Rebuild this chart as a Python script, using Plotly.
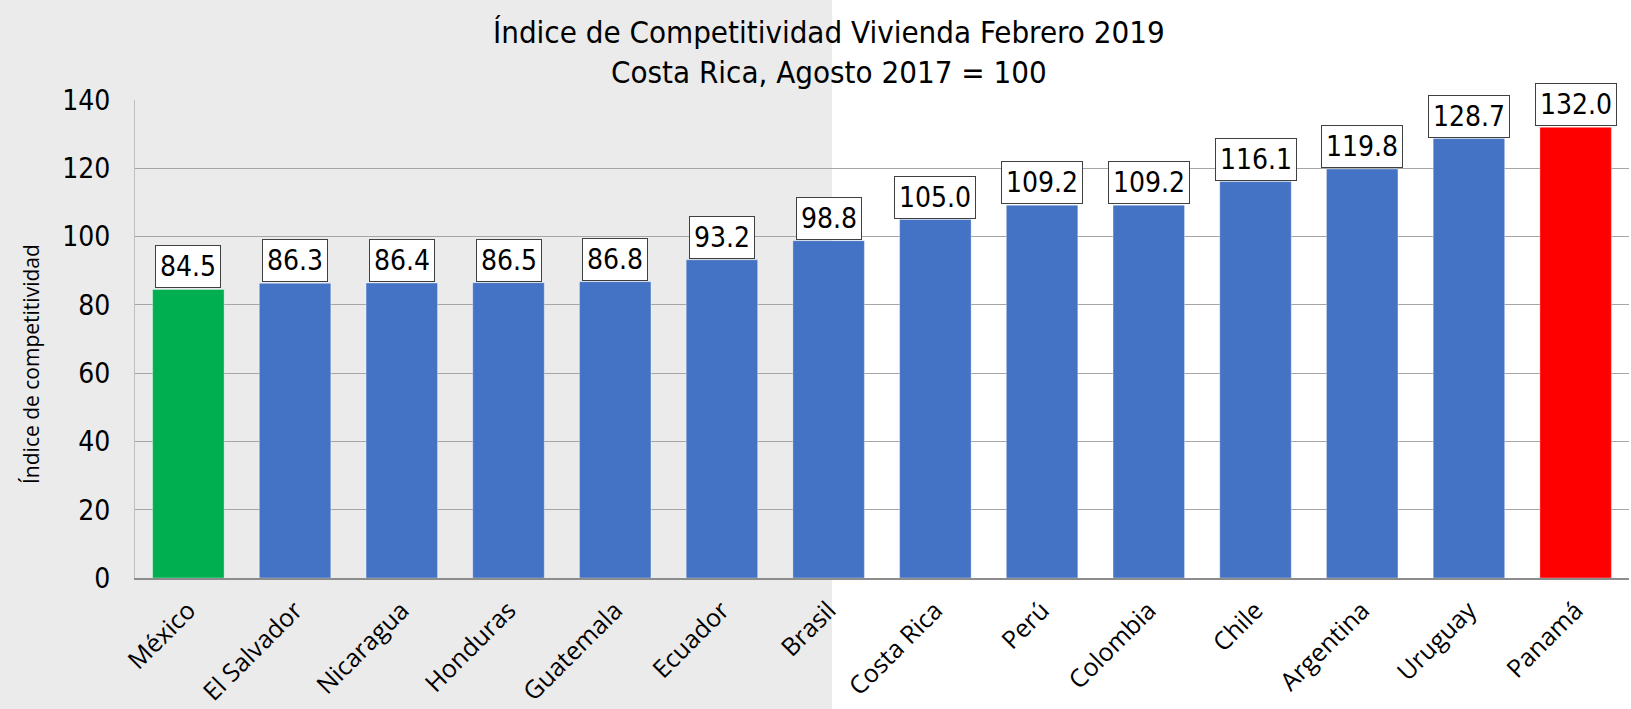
import plotly.graph_objects as go

categories = ["México", "El Salvador", "Nicaragua", "Honduras", "Guatemala", "Ecuador", "Brasil",
              "Costa Rica", "Perú", "Colombia", "Chile", "Argentina", "Uruguay", "Panamá"]
values = [84.5, 86.3, 86.4, 86.5, 86.8, 93.2, 98.8, 105.0, 109.2, 109.2, 116.1, 119.8, 128.7, 132.0]
bar_colors = ["#00B050"] + ["#4472C4"] * 12 + ["#FF0000"]
y_ticks = [0, 20, 40, 60, 80, 100, 120, 140]

title_text = "Índice de Competitividad Vivienda Febrero 2019<br>Costa Rica, Agosto 2017 = 100"
y_title = "Índice de competitividad"

NARROW = "Liberation Sans Narrow, Arial Narrow, DejaVu Sans Condensed, sans-serif"
SANS = "Open Sans, Noto Sans, sans-serif"

W, H = 1631, 709
L, R, T, B = 135, 2, 100, 131
pw = W - L - R
ph = H - T - B

fig = go.Figure()
fig.add_trace(go.Bar(
    x=categories, y=values,
    marker=dict(color=bar_colors, line=dict(color="rgba(255,255,255,0.35)", width=1)),
    width=0.67,
    hoverinfo="x+y",
))

annotations = []
for c, v in zip(categories, values):
    annotations.append(dict(
        x=c, y=v, xref="x", yref="y", text=f"{v:.1f}", showarrow=False,
        yanchor="bottom", yshift=1,
        font=dict(family=NARROW, size=28, color="#000000"),
        bgcolor="#FFFFFF", bordercolor="#404040", borderwidth=1, borderpad=4,
    ))

annotations.append(dict(
    text=title_text, xref="paper", yref="paper",
    x=(829 - L) / pw, y=1 + (T - 12) / ph, xanchor="center", yanchor="top",
    showarrow=False, font=dict(family=NARROW, size=31, color="#000000"),
))

annotations.append(dict(
    text=y_title, xref="paper", yref="paper", textangle=-90,
    x=(31 - L) / pw, y=1 - (364 - T) / ph, xanchor="center", yanchor="middle",
    showarrow=False, font=dict(family=SANS, size=21, color="#000000"),
))

gray_edge = (832 - L) / pw
shapes = [dict(type="rect", xref="paper", yref="paper", x0=-L / pw - 0.05, x1=gray_edge,
               y0=-2, y1=3, fillcolor="#EBEBEB", line=dict(width=0), layer="below")]

fig.update_layout(
    width=W, height=H,
    margin=dict(l=L, r=R, t=T, b=B, autoexpand=False),
    paper_bgcolor="#FFFFFF",
    plot_bgcolor="rgba(0,0,0,0)",
    showlegend=False,
    bargap=0.33,
    annotations=annotations,
    shapes=shapes,
    xaxis=dict(
        type="category", tickangle=-45, automargin=False,
        tickfont=dict(family=SANS, size=25, color="#000000"),
        showline=True, linecolor="#8C8C8C", linewidth=1.5,
        showgrid=False, ticks="", ticklabelstandoff=6,
    ),
    yaxis=dict(
        range=[0, 140], tickvals=y_ticks, automargin=False,
        tickfont=dict(family=NARROW, size=28, color="#000000"),
        showgrid=True, gridcolor="#A6A6A6", gridwidth=1,
        showline=True, linecolor="#BFBFBF", linewidth=1,
        zeroline=False, ticks="", ticklabelstandoff=18,
    ),
)

fig.write_html("out.html", config={"displayModeBar": False},
               post_script="document.body.style.margin='0';")
